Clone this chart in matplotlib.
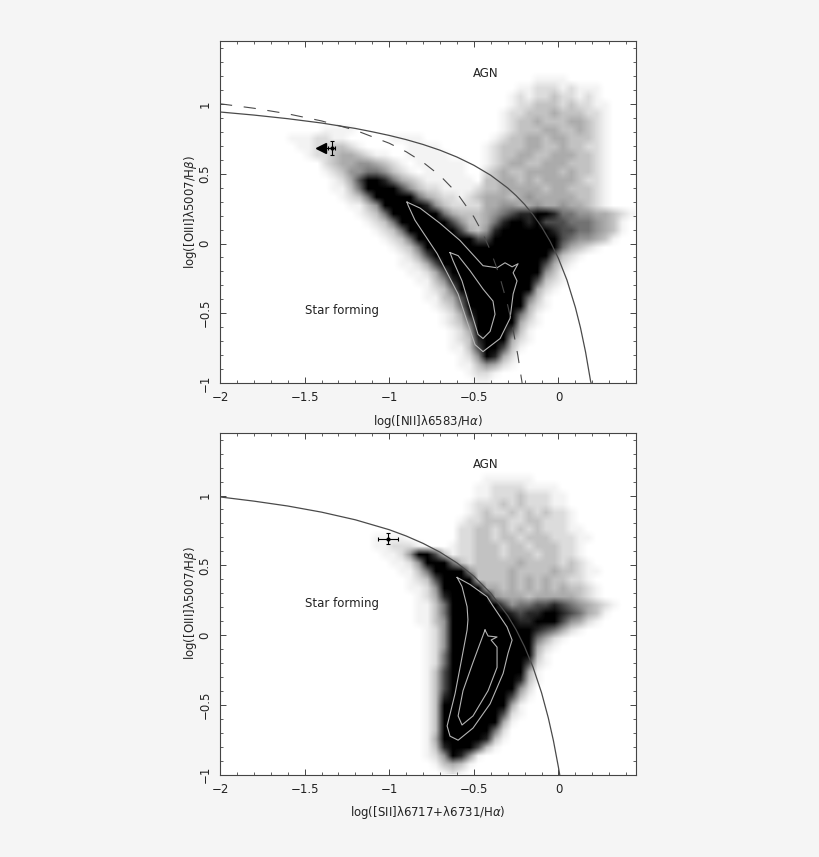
import numpy as np
import matplotlib
matplotlib.use('Agg')
import matplotlib.pyplot as plt
import matplotlib.ticker as ticker

# density, digit 0 (white) to 9 (black)
# one entry per row from the top, each row a list of (first column, digits)
density_nii = [
    [], [], [], [],
    [(37, "1111")],
    [(35, "1122212111")],
    [(34, "12122322121")],
    [(34, "122333232211")],
    [(33, "1223334333221")],
    [(33, "1233433344321")],
    [(12, "1111"), (33, "1233344334321")],
    [(8, "1112211"), (20, "1111"), (32, "12334434433321")],
    [(9, "11223321"), (22, "1111"), (31, "123334433433221")],
    [(10, "1223443211"), (22, "11111"), (31, "123344334443321")],
    [(12, "2344554321"), (23, "111111"), (31, "123443344433321")],
    [(12, "12355665321"), (24, "11111"), (31, "234334444343321")],
    [(13, "12479986432111111"), (31, "334434344443221")],
    [(13, "11369999753221111"), (30, "2334444434433321")],
    [(14, "1236999996432212"), (30, "3444345444443321")],
    [(15, "1135999998532222"), (31, "445544544544321")],
    [(16, "123699999964333456788998665544" + "321")],
    [(17, "1236999999753346899897776665431")],
    [(18, "123699999974358999999877665431")],
    [(19, "123699999997799999999" + "7655431")],
    [(20, "1236" + "9999999999999999" + "64321")],
    [(21, "1247" + "99999999999999" + "6321")],
    [(21, "1124" + "7" + "999999999999" + "7421")],
    [(22, "11247" + "99999999999" + "531")],
    [(23, "11358" + "999999999" + "7321")],
    [(24, "12369" + "99999999" + "421")],
    [(24, "113479999999" + "631")],
    [(25, "12369999999" + "421")],
    [(26, "12489999" + "9" + "631")],
    [(26, "123699999" + "421")],
    [(27, "12499997" + "31")],
    [(27, "1238999" + "421")],
    [(27, "113799" + "731")],
    [(28, "1259" + "842")],
    [(28, "113542" + "1")],
    [(29, "1221")],
    [(30, "11")],
]

density_sii = [
    [], [], [], [], [],
    [(31, "111111")],
    [(30, "1122221111")],
    [(30, "11222322211")],
    [(29, "122232322211")],
    [(29, "1232232323221")],
    [(28, "12233322332221")],
    [(28, "223323232322211")],
    [(18, "1111"), (28, "2233233233322211")],
    [(18, "112221"), (27, "1223332332333221")],
    [(19, "1125997312"), (29, "23332333233221")],
    [(20, "11259996323"), (31, "3333433332321")],
    [(21, "1136999953"), (31, "33343333433211")],
    [(22, "12379999"), (30, "33334343433221")],
    [(22, "112599999"), (31, "44343434343321")],
    [(23, "124899999"), (32, "5444344444321")],
    [(23, "1136999999"), (33, "75667787654321")],
    [(23, "1136" + "9999999" + "87889987" + "6431")],
    [(23, "1135" + "99999999" + "88999754" + "21")],
    [(24, "125" + "9999999999" + "87" + "64" + "21")],
    [(24, "125" + "9999999999" + "6421")],
    [(24, "125" + "9999999999" + "421")],
    [(24, "126" + "9999999999" + "31")],
    [(24, "126" + "999999999" + "721")],
    [(24, "137" + "999999999" + "41")],
    [(24, "137" + "99999999" + "831")],
    [(24, "137" + "99999999" + "52")],
    [(24, "138" + "9999999" + "731")],
    [(24, "139" + "9999999" + "41")],
    [(24, "139" + "999999" + "721")],
    [(24, "139" + "999999" + "41")],
    [(24, "139" + "99999" + "62")],
    [(24, "149" + "9999" + "831")],
    [(24, "138" + "999" + "731")],
    [(24, "1259851")],
    [(25, "13431")],
    [(26, "121")],
]

# darkness of each digit, 0 is white and 1 is black
shades = np.array([0, 0.05, 0.14, 0.24, 0.33, 0.42, 0.55, 0.7, 0.85, 1])

# lines
solid_nii_x = [-2, -1.8, -1.6, -1.4, -1.2, -1.1, -1.0, -0.9, -0.8, -0.7, -0.6, -0.5, -0.4, -0.3, -0.25, -0.2, -0.15, -0.1, -0.05, 0, 0.05, 0.1, 0.13, 0.16, 0.19, 0.193]
solid_nii_y = [0.943, 0.921, 0.895, 0.864, 0.825, 0.801, 0.775, 0.745, 0.710, 0.669, 0.620, 0.561, 0.489, 0.398, 0.343, 0.280, 0.206, 0.120, 0.017, -0.108, -0.262, -0.459, -0.604, -0.778, -0.989, -1.0]
dashed_nii_x = [-2, -1.8, -1.6, -1.4, -1.2, -1.0, -0.9, -0.8, -0.7, -0.6, -0.5, -0.45, -0.4, -0.35, -0.3, -0.27, -0.24, -0.215]
dashed_nii_y = [1.002, 0.970, 0.930, 0.879, 0.812, 0.719, 0.658, 0.582, 0.487, 0.362, 0.191, 0.08, -0.056, -0.225, -0.443, -0.606, -0.803, -1.0]
solid_sii_x = [-2, -1.8, -1.6, -1.4, -1.2, -1.0, -0.9, -0.8, -0.7, -0.6, -0.5, -0.4, -0.3, -0.25, -0.2, -0.15, -0.1, -0.06, -0.03, 0, 0.007]
solid_sii_y = [0.990, 0.960, 0.925, 0.881, 0.826, 0.755, 0.710, 0.657, 0.594, 0.517, 0.422, 0.30, 0.139, 0.037, -0.085, -0.232, -0.414, -0.595, -0.757, -0.95, -1.0]

# contours
outer_nii_x = [-0.895, -0.818, -0.70, -0.582, -0.446, -0.363, -0.316, -0.274, -0.239, -0.268, -0.245, -0.268, -0.286, -0.345, -0.446, -0.493, -0.534, -0.593, -0.717, -0.848, -0.889, -0.895]
outer_nii_y = [0.297, 0.254, 0.145, 0.022, -0.159, -0.174, -0.138, -0.167, -0.145, -0.21, -0.268, -0.362, -0.536, -0.681, -0.775, -0.725, -0.58, -0.362, -0.072, 0.167, 0.275, 0.297]
inner_nii_x = [-0.641, -0.593, -0.522, -0.446, -0.387, -0.375, -0.404, -0.446, -0.475, -0.511, -0.57, -0.623, -0.641]
inner_nii_y = [-0.065, -0.087, -0.196, -0.326, -0.413, -0.507, -0.63, -0.681, -0.652, -0.507, -0.268, -0.123, -0.065]
outer_sii_x = [-0.599, -0.522, -0.422, -0.392, -0.304, -0.274, -0.298, -0.327, -0.404, -0.505, -0.593, -0.641, -0.658, -0.611, -0.57, -0.54, -0.535, -0.54, -0.57, -0.599]
outer_sii_y = [0.413, 0.362, 0.275, 0.217, 0.058, -0.036, -0.13, -0.275, -0.493, -0.667, -0.754, -0.725, -0.652, -0.42, -0.159, 0.036, 0.109, 0.203, 0.348, 0.413]
inner_sii_x = [-0.434, -0.416, -0.363, -0.398, -0.363, -0.363, -0.416, -0.505, -0.57, -0.593, -0.564, -0.505, -0.463, -0.434]
inner_sii_y = [0.036, -0.007, -0.014, -0.036, -0.087, -0.232, -0.399, -0.58, -0.645, -0.58, -0.399, -0.196, -0.058, 0.036]

# the single object with its error bars
point_nii = (-1.34, 0.685)
point_nii_err = (0.02, 0.047)
arrow_tip_nii = -1.405
point_sii = (-1.007, 0.692)
point_sii_err = (0.06, 0.042)

label_y = r'log([OIII]λ5007/H$\beta$)'
label_x_nii = r'log([NII]λ6583/H$\alpha$)'
label_x_sii = r'log([SII]λ6717+λ6731/H$\alpha$)'

W, H = 820, 857
LINE = '#4a4a4a'
CONTOUR = '#b4b4b4'


def make_grid(rows):
    grid = np.zeros((41, 49), dtype=int)
    for j, row in enumerate(rows):
        for start, digits in row:
            for k, d in enumerate(digits):
                if start + k < 49:
                    grid[j, start + k] = int(d)
    return grid


def setup_axes(fig, top, bottom, xlabel):
    ax = fig.add_axes([220 / W, 1 - bottom / H, (636 - 220) / W, (bottom - top) / H])
    ax.set_xlim(-2, 0.458)
    ax.set_ylim(-1, 1.452)
    ax.set_facecolor('white')
    ax.xaxis.set_major_locator(ticker.MultipleLocator(0.5))
    ax.xaxis.set_minor_locator(ticker.MultipleLocator(0.1))
    ax.yaxis.set_major_locator(ticker.MultipleLocator(0.5))
    ax.yaxis.set_minor_locator(ticker.MultipleLocator(0.1))
    fmt = ticker.FuncFormatter(lambda v, p: ('%g' % v).replace('-', '\u2212'))
    ax.xaxis.set_major_formatter(fmt)
    ax.yaxis.set_major_formatter(fmt)
    ax.tick_params(which='major', direction='in', top=True, right=True, length=4.3, width=0.7, color='#444444', labelsize=8.5, pad=6, labelcolor='#222222')
    ax.tick_params(which='minor', direction='in', top=True, right=True, length=2.5, width=0.6, color='#444444')
    for lab in ax.get_yticklabels():
        lab.set_rotation(90)
        lab.set_va('center')
    for s in ax.spines.values():
        s.set_linewidth(0.8)
        s.set_color('#444444')
    ax.set_xlabel(xlabel, fontsize=8.5, color='#222222', labelpad=6)
    ax.set_ylabel(label_y, fontsize=8.5, color='#222222', labelpad=0)
    return ax


def draw_density(ax, rows):
    ax.imshow(shades[make_grid(rows)], cmap='gray_r', vmin=0, vmax=1, origin='upper',
              extent=[-2, 0.45, -1.02, 1.44], aspect='auto', interpolation='bilinear', zorder=1)


fig = plt.figure(figsize=(W / 100, H / 100), dpi=100, facecolor='#f5f5f5')

# top panel
ax1 = setup_axes(fig, 41, 383, label_x_nii)
draw_density(ax1, density_nii)
ax1.plot(outer_nii_x, outer_nii_y, color=CONTOUR, lw=0.8, zorder=3)
ax1.plot(inner_nii_x, inner_nii_y, color=CONTOUR, lw=0.8, zorder=3)
ax1.plot(solid_nii_x, solid_nii_y, color=LINE, lw=0.9, zorder=4)
ax1.plot(dashed_nii_x, dashed_nii_y, color=LINE, lw=0.8, dashes=(11, 10.5), zorder=4)
ax1.errorbar([point_nii[0]], [point_nii[1]], xerr=[point_nii_err[0]], yerr=[point_nii_err[1]], fmt='o', ms=2,
             color='black', elinewidth=0.8, capsize=1.5, capthick=0.8, zorder=5)
ax1.plot([arrow_tip_nii, point_nii[0]], [point_nii[1], point_nii[1]], color='black', lw=0.8, zorder=5)
ax1.plot([arrow_tip_nii], [point_nii[1]], marker='<', ms=7, color='black', zorder=5)
ax1.text(-0.43, 1.217, 'AGN', fontsize=8.5, ha='center', va='center', color='#222222')
ax1.text(-1.28, -0.48, 'Star forming', fontsize=8.5, ha='center', va='center', color='#222222')

# bottom panel
ax2 = setup_axes(fig, 432.5, 774.5, label_x_sii)
draw_density(ax2, density_sii)
ax2.plot(outer_sii_x, outer_sii_y, color=CONTOUR, lw=0.8, zorder=3)
ax2.plot(inner_sii_x, inner_sii_y, color=CONTOUR, lw=0.8, zorder=3)
ax2.plot(solid_sii_x, solid_sii_y, color=LINE, lw=0.9, zorder=4)
ax2.errorbar([point_sii[0]], [point_sii[1]], xerr=[point_sii_err[0]], yerr=[point_sii_err[1]], fmt='o', ms=2,
             color='black', elinewidth=0.8, capsize=1.5, capthick=0.8, zorder=5)
ax2.text(-0.43, 1.224, 'AGN', fontsize=8.5, ha='center', va='center', color='#222222')
ax2.text(-1.28, 0.225, 'Star forming', fontsize=8.5, ha='center', va='center', color='#222222')

fig.savefig('out.png', dpi=100, facecolor=fig.get_facecolor())
